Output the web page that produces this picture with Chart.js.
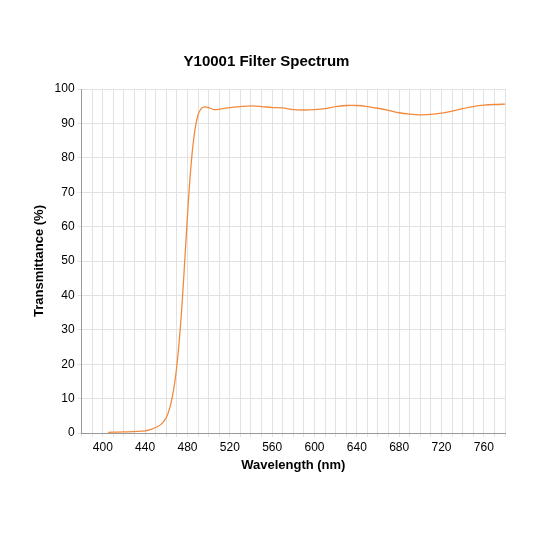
<!DOCTYPE html>
<html>
<head>
<script src="https://cdn.jsdelivr.net/npm/chart.js@4/dist/chart.umd.min.js"></script>
<style>html,body{margin:0;background:#fff}#wrap{width:533px;height:533px}</style>
</head>
<body>
<div id="wrap"><canvas id="c"></canvas></div>
<script>
const wavelengths = [405, 420, 440, 445, 450, 455, 460, 463, 466, 469, 472, 475, 478, 481, 484, 487, 490, 493, 496, 500, 505, 510, 520, 530, 540, 550, 560, 570, 580, 590, 600, 610, 620, 630, 640, 650, 660, 670, 680, 690, 700, 710, 720, 730, 740, 750, 760, 770, 780];
const transmittance = [0.2, 0.3, 0.6, 1.0, 1.6, 2.5, 4.5, 7, 11, 17, 26, 38, 53, 68, 80, 88, 92.5, 94.3, 94.8, 94.6, 94, 94.1, 94.6, 94.9, 95.1, 94.9, 94.6, 94.5, 94, 93.9, 94, 94.3, 94.9, 95.2, 95.2, 94.9, 94.4, 93.8, 93.1, 92.7, 92.5, 92.6, 93, 93.6, 94.3, 94.9, 95.3, 95.5, 95.6];

new Chart(document.getElementById('c'), {
    type: 'line',
    data: {
        datasets: [{
            data: wavelengths.map((w, i) => ({x: w, y: transmittance[i]})),
            borderColor: '#f28a3c',
            borderWidth: 1.3,
            pointRadius: 0,
            tension: 0.3
        }]
    },
    options: {
        responsive: true,
        maintainAspectRatio: false,
        animation: false,
        layout: {padding: {top: 53, right: 28, bottom: 60, left: 28}},
        plugins: {
            legend: {display: false},
            title: {
                display: true,
                text: 'Y10001 Filter Spectrum',
                color: '#000',
                font: {family: 'Liberation Sans', size: 15, weight: 'bold'},
                padding: {bottom: 18}
            }
        },
        scales: {
            x: {
                type: 'linear', min: 380, max: 780,
                ticks: {
                    stepSize: 10, autoSkip: false, maxRotation: 0, color: '#000',
                    font: {family: 'Liberation Sans', size: 12},
                    callback: v => v % 40 === 0 ? v : ''
                },
                grid: {color: '#e2e2e2', drawTicks: true, tickLength: 4},
                border: {color: '#999'},
                title: {display: true, text: 'Wavelength (nm)', color: '#000', padding: 0,
                    font: {family: 'Liberation Sans', size: 13, weight: 'bold'}}
            },
            y: {
                min: 0, max: 100,
                ticks: {stepSize: 5, color: '#000', font: {family: 'Liberation Sans', size: 12}},
                grid: {color: '#e2e2e2', tickLength: 4},
                border: {color: '#999'},
                title: {display: true, text: 'Transmittance (%)', color: '#000',
                    font: {family: 'Liberation Sans', size: 13, weight: 'bold'}}
            }
        }
    }
});
</script>
</body>
</html>
